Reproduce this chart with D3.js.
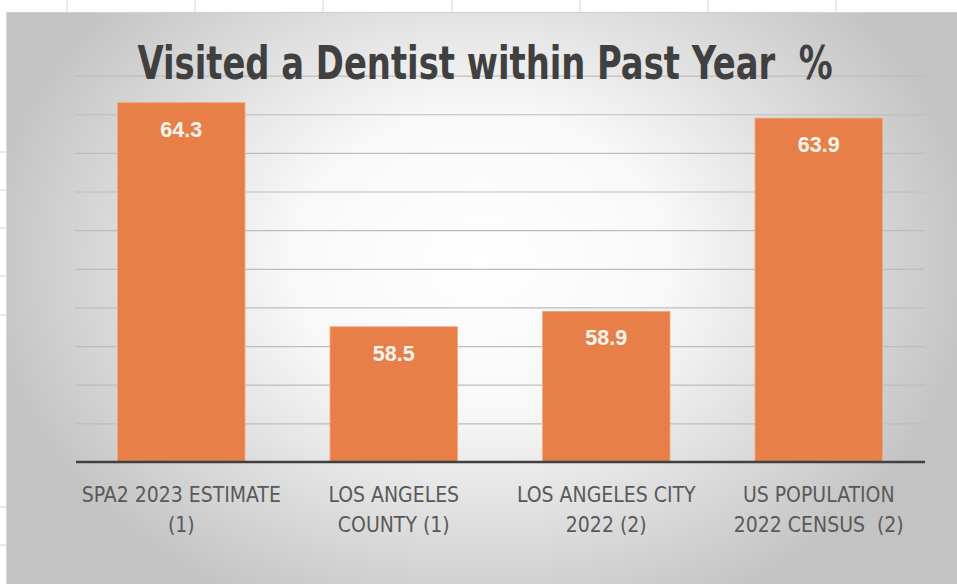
<!DOCTYPE html>
<html>
<head>
<meta charset="utf-8">
<script src="https://cdn.jsdelivr.net/npm/d3@7"></script>
<style>
  html, body { margin: 0; padding: 0; background: #ffffff; }
  svg { display: block; }
</style>
</head>
<body>
<svg id="chart" width="957" height="585"></svg>
<script>
// ---- data ----
const categories = [
  "SPA2 2023 ESTIMATE\n(1)",
  "LOS ANGELES\nCOUNTY (1)",
  "LOS ANGELES CITY\n2022 (2)",
  "US POPULATION\n2022 CENSUS  (2)"
];
const values = [64.3, 58.5, 58.9, 63.9];
const yTicks = [56, 57, 58, 59, 60, 61, 62, 63, 64, 65];
const titleText = "Visited a Dentist within Past Year  %";

// ---- layout ----
const W = 957, H = 585;
const svg = d3.select("#chart");
const defs = svg.append("defs");

// spreadsheet cell lines outside the chart
const sheetCols = [67, 195, 323, 452, 580, 708, 836];
const sheetRows = [152, 190, 228, 276, 315, 507, 545];
svg.append("g").selectAll("line").data(sheetCols).join("line")
  .attr("x1", d => d).attr("x2", d => d).attr("y1", 0).attr("y2", 12)
  .attr("stroke", "#d4d4d4").attr("stroke-width", 1);
svg.append("g").selectAll("line").data(sheetRows).join("line")
  .attr("x1", 0).attr("x2", 6).attr("y1", d => d).attr("y2", d => d)
  .attr("stroke", "#d4d4d4").attr("stroke-width", 1);

// chart area background: radial gradient
const grad = defs.append("radialGradient")
  .attr("id", "bg").attr("gradientUnits", "userSpaceOnUse")
  .attr("cx", 480).attr("cy", 260).attr("r", 500)
  .attr("gradientTransform", "translate(0,260) scale(1,0.78) translate(0,-260)");
grad.append("stop").attr("offset", 0).attr("stop-color", "#ffffff");
grad.append("stop").attr("offset", 0.38).attr("stop-color", "#f8f8f8");
grad.append("stop").attr("offset", 1).attr("stop-color", "#c3c3c3");

svg.append("rect").attr("x", 6).attr("y", 12).attr("width", W - 6).attr("height", 572)
  .attr("fill", "url(#bg)");
svg.append("line").attr("x1", 6).attr("x2", W).attr("y1", 12.5).attr("y2", 12.5)
  .attr("stroke", "#d0d0d0").attr("stroke-width", 1);
svg.append("line").attr("x1", 6.5).attr("x2", 6.5).attr("y1", 12).attr("y2", 584)
  .attr("stroke", "#d8d8d8").attr("stroke-width", 1);

// scales
const x = d3.scaleBand().domain(categories).range([75, 925])
  .paddingInner(0.4).paddingOuter(0.2);
const y = d3.scaleLinear().domain([55, 65]).range([462, 75.6]);

// gridlines
const grid = svg.append("g").attr("transform", "translate(75,0)")
  .call(d3.axisLeft(y).tickValues(yTicks).tickSize(-850).tickFormat(""));
grid.select(".domain").remove();
grid.selectAll(".tick line").attr("stroke", "#bdbdbd").attr("stroke-width", 1.2);

// bars
svg.append("g").selectAll("rect").data(values).join("rect")
  .attr("x", (d, i) => x(categories[i]))
  .attr("y", d => y(d))
  .attr("width", x.bandwidth())
  .attr("height", d => y(55) - y(d))
  .attr("fill", "#e97f48")
  .attr("stroke", "#f3a77c").attr("stroke-width", 0.8);

// data labels
svg.append("g").selectAll("text").data(values).join("text")
  .attr("x", (d, i) => x(categories[i]) + x.bandwidth() / 2)
  .attr("y", d => y(d) + 34)
  .attr("text-anchor", "middle")
  .attr("font-family", "'Liberation Sans', Arial, sans-serif")
  .attr("font-weight", "bold")
  .attr("font-size", 21.5)
  .attr("fill", "#fff7ef")
  .text(d => d.toFixed(1));

// x axis baseline and labels
const xAxis = svg.append("g").attr("transform", `translate(0,${y(55)})`)
  .call(d3.axisBottom(x).tickSize(0).tickFormat(""));
xAxis.select(".domain").attr("stroke", "#404040").attr("stroke-width", 2.5)
  .attr("d", "M76,0H925");

xAxis.selectAll(".tick").each(function(d) {
  const t = d3.select(this).append("text")
    .attr("text-anchor", "middle")
    .attr("font-family", "'Liberation Sans Narrow', 'DejaVu Sans Condensed', sans-serif")
    .attr("font-size", 21)
    .attr("fill", "#595959")
    .style("white-space", "pre");
  d.split("\n").forEach((line, k) => {
    t.append("tspan").attr("x", 0).attr("y", 40 + k * 29.5).text(line);
  });
});

// title
svg.append("text")
  .attr("transform", "translate(485,79) scale(1,1.3)")
  .attr("x", 0).attr("y", 0)
  .attr("text-anchor", "middle")
  .attr("font-family", "'Liberation Sans Narrow', 'DejaVu Sans Condensed', sans-serif")
  .attr("font-weight", "bold")
  .attr("font-size", 35)
  .attr("fill", "#404040")
  .attr("textLength", 695)
  .attr("lengthAdjust", "spacingAndGlyphs")
  .style("white-space", "pre")
  .text(titleText);
</script>
</body>
</html>
